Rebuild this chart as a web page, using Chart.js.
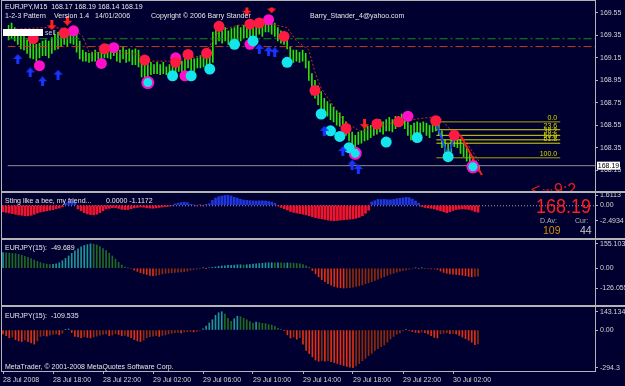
<!DOCTYPE html>
<html>
<head>
<meta charset="utf-8">
<script src="https://cdn.jsdelivr.net/npm/chart.js@4.4.0/dist/chart.umd.min.js"></script>
<style>
html, body { margin: 0; padding: 0; background: #000030; overflow: hidden; }
#wrap { position: relative; width: 625px; height: 386px; background: #000030; }
canvas { position: absolute; left: 0; }
.ln { position: absolute; background: #b4b4b4; }
</style>
</head>
<body>
<div id="wrap">
  <canvas id="cMain" width="625" height="191" style="top:0"></canvas>
  <canvas id="cSting" width="625" height="45" style="top:193px"></canvas>
  <canvas id="cOsc1" width="625" height="65" style="top:240px"></canvas>
  <canvas id="cOsc2" width="625" height="79" style="top:307px"></canvas>
  <div class="ln" style="left:1px;top:0;width:595px;height:1px"></div>
  <div class="ln" style="left:1px;top:0;width:1px;height:372px"></div>
  <div class="ln" style="left:595px;top:0;width:1px;height:372px"></div>
  <div class="ln" style="left:1px;top:191px;width:624px;height:2px"></div>
  <div class="ln" style="left:1px;top:238px;width:624px;height:2px"></div>
  <div class="ln" style="left:1px;top:305px;width:624px;height:2px"></div>
  <div class="ln" style="left:1px;top:371px;width:595px;height:1px"></div>
</div>
<script>
// DATA (one entry per M15 bar, index 0 = 28 Jul 14:00)

const timeLabels = ['28 Jul 2008', '28 Jul 18:00', '28 Jul 22:00', '29 Jul 02:00', '29 Jul 06:00',
  '29 Jul 10:00', '29 Jul 14:00', '29 Jul 18:00', '29 Jul 22:00', '30 Jul 02:00'];
const timeTickIdx = [0, 16, 32, 48, 64, 80, 96, 112, 128, 144];

const priceTicks = [169.55, 169.35, 169.15, 168.95, 168.75, 168.55, 168.35, 168.15];

const highs = [
  169.44, 169.46, 169.42, 169.39, 169.38, 169.34, 169.31, 169.30, 169.27, 169.27,
  169.28, 169.30, 169.31, 169.30, 169.33, 169.36, 169.38, 169.39, 169.41, 169.38,
  169.41, 169.39, 169.36, 169.30, 169.22, 169.20, 169.19, 169.20, 169.22, 169.20,
  169.23, 169.25, 169.27, 169.25, 169.27, 169.23, 169.22, 169.25, 169.22, 169.23,
  169.22, 169.23, 169.22, 169.12, 169.11, 169.09, 169.11, 169.09, 169.11, 169.09,
  169.11, 169.07, 169.09, 169.11, 169.12, 169.14, 169.12, 169.14, 169.17, 169.15,
  169.14, 169.15, 169.17, 169.19, 169.20, 169.22, 169.38, 169.41, 169.42, 169.41,
  169.42, 169.39, 169.41, 169.42, 169.44, 169.42, 169.44, 169.46, 169.44, 169.42,
  169.46, 169.47, 169.46, 169.49, 169.50, 169.47, 169.46, 169.42, 169.39, 169.38,
  169.33, 169.25, 169.22, 169.22, 169.20, 169.22, 169.19, 169.12, 169.01, 168.95,
  168.90, 168.85, 168.79, 168.76, 168.74, 168.71, 168.68, 168.66, 168.63, 168.58,
  168.54, 168.49, 168.46, 168.49, 168.50, 168.52, 168.54, 168.55, 168.57, 168.58,
  168.60, 168.58, 168.60, 168.62, 168.60, 168.63, 168.63, 168.65, 168.63, 168.58,
  168.55, 168.57, 168.58, 168.57, 168.58, 168.57, 168.55, 168.58, 168.62, 168.60,
  168.50, 168.42, 168.38, 168.44, 168.47, 168.47, 168.42, 168.38, 168.35, 168.30,
  168.27, 168.23, 168.19];
const lows = [
  169.31, 169.33, 169.30, 169.27, 169.23, 169.22, 169.19, 169.15, 169.14, 169.12,
  169.15, 169.17, 169.17, 169.15, 169.19, 169.22, 169.23, 169.25, 169.27, 169.25,
  169.28, 169.27, 169.20, 169.14, 169.12, 169.12, 169.11, 169.12, 169.12, 169.14,
  169.14, 169.15, 169.15, 169.14, 169.17, 169.12, 169.11, 169.14, 169.11, 169.12,
  169.09, 169.09, 169.07, 168.98, 168.95, 168.98, 169.00, 169.01, 169.01, 169.00,
  169.01, 169.00, 168.98, 168.98, 169.01, 169.03, 169.01, 169.03, 169.06, 169.04,
  169.03, 169.06, 169.06, 169.07, 169.09, 169.09, 169.11, 169.27, 169.30, 169.28,
  169.30, 169.27, 169.30, 169.31, 169.31, 169.30, 169.33, 169.33, 169.31, 169.31,
  169.34, 169.36, 169.34, 169.38, 169.38, 169.36, 169.34, 169.30, 169.28, 169.27,
  169.23, 169.15, 169.11, 169.12, 169.11, 169.12, 169.06, 168.95, 168.82, 168.79,
  168.73, 168.69, 168.66, 168.63, 168.60, 168.58, 168.55, 168.54, 168.50, 168.46,
  168.41, 168.36, 168.33, 168.38, 168.39, 168.41, 168.42, 168.44, 168.46, 168.47,
  168.49, 168.47, 168.50, 168.50, 168.49, 168.52, 168.54, 168.55, 168.52, 168.46,
  168.42, 168.46, 168.47, 168.46, 168.49, 168.46, 168.44, 168.49, 168.50, 168.46,
  168.35, 168.30, 168.27, 168.31, 168.36, 168.35, 168.30, 168.27, 168.23, 168.20,
  168.17, 168.16, 168.14];
const lastOpen = 168.17;
const lastClose = 168.19;

// trailing line (sparse vertices)
const trailLine = [[0, 169.40], [5, 169.41], [13, 169.42], [21, 169.41], [24, 169.34], [26, 169.20],
  [34, 169.20], [42, 169.18], [45, 169.12], [52, 169.12], [63, 169.17], [66, 169.30], [68, 169.39],
  [74, 169.44], [85, 169.45], [90, 169.42], [93, 169.30], [97, 169.22], [99, 169.02], [101, 168.88],
  [105, 168.72], [108, 168.60], [111, 168.54], [114, 168.49], [119, 168.54], [124, 168.57],
  [133, 168.61], [139, 168.63], [143, 168.50], [148, 168.39], [152, 168.23]];

const levelGreen = 169.32;
const levelRed = 169.25;

const redDots = [[8, 169.32], [18, 169.37], [31, 169.23], [44, 169.13], [54, 169.11], [58, 169.18],
  [64, 169.19], [68, 169.43], [78, 169.45], [81, 169.46], [89, 169.34], [99, 168.86], [109, 168.52],
  [119, 168.56], [126, 168.58], [138, 168.59], [144, 168.46]];
const magentaDots = [[10, 169.08], [21, 169.39], [30, 169.10], [34, 169.24], [54, 169.15],
  [57, 168.99], [78, 169.27], [84, 169.49], [129, 168.63]];
const cyanDots = [[53, 168.99], [59, 168.99], [65, 169.05], [73, 169.27], [79, 169.30], [90, 169.11],
  [101, 168.65], [104, 168.50], [107, 168.45], [110, 168.35], [122, 168.40], [132, 168.44], [142, 168.27]];
const cyanRingDots = [[45, 168.93], [112, 168.30], [150, 168.18]];
const upArrows = [[3, 169.14], [7, 169.02], [11, 168.94], [16, 169.00], [81, 169.23], [84, 169.21],
  [86, 169.20], [102, 168.50], [108, 168.32], [111, 168.20], [113, 168.16]];
const downArrows = [[14, 169.44], [19, 169.48], [77, 169.57], [85, 169.59], [115, 168.56]];

const fibLabels = ['0.0', '23.6', '38.2', '50.0', '61.8', '100.0'];
const fibPrices = [168.58, 168.51, 168.46, 168.42, 168.39, 168.26];
const fibFrom = 138.2, fibTo = 178.2;
const zigBlue = [[138, 168.58], [142, 168.27], [144, 168.45]];
const zigRed = [[146, 168.46], [153, 168.10]];

const sting = [
  -1.05, -1.15, -1.25, -1.35, -1.45, -1.55, -1.62, -1.68, -1.70, -1.62,
  -1.45, -1.25, -1.10, -1.00, -0.90, -0.80, -0.70, -0.55, -0.45, -0.25,
  0.35, 0.62, 0.72, 0.45, -0.60, -0.90, -1.20, -1.40, -1.50, -1.55,
  -1.45, -1.20, -0.90, -0.60, -0.50, -0.40, -0.38, -0.50, -0.65, -0.70,
  -0.68, -0.55, -0.42, -0.35, -0.28, -0.32, -0.40, -0.45, -0.48, -0.42,
  -0.35, -0.28, -0.22, -0.15, -0.08, 0.22, 0.35, 0.45, 0.50, 0.42,
  0.15, 0.08, -0.05, 0.10, -0.04, 0.15, 0.25, 0.78, 1.18, 1.38,
  1.50, 1.58, 1.6113, 1.50, 1.30, 1.15, 0.98, 0.85, 0.80, 0.75,
  0.72, 0.70, 0.72, 0.72, 0.70, 0.62, 0.50, 0.30, -0.10, -0.35,
  -0.55, -0.75, -1.00, -1.15, -1.25, -1.35, -1.45, -1.55, -1.70, -1.85,
  -2.00, -2.10, -2.20, -2.30, -2.40, -2.47, -2.4934, -2.45, -2.40, -2.35,
  -2.30, -2.25, -2.20, -2.10, -1.95, -1.70, -1.30, -0.80, 0.55, 0.75,
  0.95, 0.92, 0.95, 0.90, 0.88, 0.95, 1.05, 1.12, 1.20, 1.28,
  1.22, 1.00, 0.70, 0.35, -0.20, -0.35, -0.42, -0.50, -0.60, -0.75,
  -0.90, -1.05, -1.20, -1.05, -0.85, -0.70, -0.62, -0.58, -0.62, -0.68,
  -0.80, -1.00, -1.1172];
const stingTicks = [1.6113, 0, -2.4934];
const stingTickText = ['1.6113', '0.00', '-2.4934'];
const dAv = 109, cur = 44;

const osc1 = [
  100, 98, 96, 94, 92, 88, 82, 76, 70, 62,
  52, 44, 36, 30, 26, 24, 25, 28, 35, 48,
  62, 78, 95, 110, 124, 136, 145, 150, 155.103, 153,
  148, 138, 125, 112, 96, 78, 58, 38, 20, 8,
  2, -3, -12, -20, -28, -35, -40, -45, -48, -46,
  -42, -36, -32, -30, -28, -27, -25, -24, -22, -18,
  -12, -8, -5, -2, 2, -1, 3, 5, 8, 12,
  15, 16, 18, 19, 20, 22, 22, 20, 22, 24,
  26, 28, 30, 32, 34, 35, 35, 34, 35, 34,
  33, 34, 33, 32, 30, 28, 24, 16, 6, -15,
  -35, -55, -72, -85, -98, -108, -116, -121, -124, -126.055,
  -125, -123, -120, -116, -112, -106, -98, -92, -85, -78,
  -70, -62, -54, -45, -37, -32, -25, -18, -14, -10,
  -6, -3, 2, -2, 1, -3, -2, -5, -4, -8,
  -18, -27, -32, -36, -38, -40, -42, -44, -47, -52,
  -55, -52, -49.689];
const osc1Ticks = [155.103, 0, -126.055];
const osc1TickText = ['155.103', '0.00', '-126.055'];

const osc2 = [
  -30, -45, -60, -55, -75, -85, -90, -78, -92, -100,
  -110, -85, -50, -45, -48, -40, -35, -30, -38, -25,
  5, 8, -20, -50, -55, -60, -52, -58, -62, -55,
  -48, -40, -35, -30, -45, -40, -28, -35, -45, -42,
  -50, -60, -75, -85, -90, -78, -60, -52, -48, -45,
  -50, -42, -38, -30, -25, -20, -18, -22, -15, -14,
  -12, -15, -10, -4, 10, 30, 55, 80, 115, 135,
  143.134, 125, 92, 68, 88, 108, 104, 92, 80, 66,
  54, 62, 58, 52, 50, 42, 38, 28, 14, 6,
  -2, -38, -62, -55, -72, -60, -110, -160, -185, -210,
  -235, -245, -238, -244, -240, -248, -255, -262, -270, -278,
  -285, -290, -294.3, -280, -262, -240, -222, -200, -182, -160,
  -145, -130, -118, -95, -70, -50, -32, -22, -8, 3,
  -4, -12, -18, -22, -15, -20, -30, -45, -58, -62,
  -30, -25, -22, -28, -26, -30, -42, -55, -68, -80,
  -95, -115, -109.535];
const osc2Ticks = [143.134, 0, -294.3];
const osc2TickText = ['143.134', '0.00', '-294.3'];


// CONFIGURACION

const X_MIN = -0.32, X_MAX = 189.44;
const GRAY = '#b4b4b4';
const FONT = "'Liberation Sans', Arial, sans-serif";

Chart.defaults.font.family = FONT;
Chart.defaults.font.size = 7;
Chart.defaults.color = '#d4d4d4';
Chart.defaults.animation = false;
Chart.defaults.events = [];
Chart.defaults.plugins.legend.display = false;
Chart.defaults.plugins.tooltip.enabled = false;

function xScale(show) {
  return {
    type: 'linear', min: X_MIN, max: X_MAX, display: show, offset: false,
    afterBuildTicks: s => { s.ticks = timeTickIdx.map(v => ({ value: v })); },
    afterFit: s => { s.height = 15; s.paddingLeft = 0; s.paddingRight = 0; },
    grid: { offset: false, drawOnChartArea: false, drawTicks: true, tickLength: 3, color: GRAY },
    border: { display: false },
    ticks: { autoSkip: false, maxRotation: 0, minRotation: 0, align: 'start', padding: 2,
      color: '#d4d4d4', callback: (v, i) => timeLabels[i] }
  };
}

function yScale(min, max, vals, texts) {
  return {
    position: 'right', min: min, max: max,
    afterBuildTicks: s => { s.ticks = vals.map(v => ({ value: v })); },
    afterFit: s => { s.width = 30; s.paddingTop = 0; s.paddingBottom = 0; },
    grid: { drawOnChartArea: false, drawTicks: true, tickLength: 3, color: GRAY },
    border: { display: false },
    ticks: { autoSkip: false, padding: 2, color: '#d4d4d4', callback: (v, i) => texts[i] }
  };
}

function drawItems(chart, items) {
  const ctx = chart.ctx;
  items.forEach(it => {
    ctx.save();
    if (it.rect) {
      ctx.fillStyle = it.color;
      ctx.fillRect(it.rect[0], it.rect[1], it.rect[2], it.rect[3]);
    } else {
      ctx.font = (it.size || 7) + 'px ' + FONT;
      ctx.fillStyle = it.color || '#e6e6e6';
      ctx.textAlign = it.align || 'left';
      ctx.textBaseline = it.base || 'middle';
      ctx.translate(it.x, it.y);
      if (it.sx) ctx.scale(it.sx, 1);
      ctx.fillText(it.text, 0, 0);
    }
    ctx.restore();
  });
}

function arrowImg(color, up) {
  const c = document.createElement('canvas');
  c.width = 9; c.height = 10;
  const g = c.getContext('2d');
  g.fillStyle = color;
  g.beginPath();
  if (up) {
    g.moveTo(4.5, 0); g.lineTo(9, 5); g.lineTo(0, 5);
    g.closePath(); g.fill();
    g.fillRect(3, 5, 3, 5);
  } else {
    g.moveTo(4.5, 10); g.lineTo(9, 5); g.lineTo(0, 5);
    g.closePath(); g.fill();
    g.fillRect(3, 0, 3, 5);
  }
  return c;
}

const pts = arr => arr.map(p => ({ x: p[0], y: p[1] }));
const flat = (y, color, dash, order) => ({
  type: 'line', data: [{ x: X_MIN, y: y }, { x: X_MAX, y: y }], borderColor: color,
  borderWidth: 1, borderDash: dash, pointRadius: 0, order: order
});

function histColors(data, upRise, upFall, dnFall, dnRise) {
  return ctx => {
    const i = ctx.dataIndex, v = data[i], p = i > 0 ? data[i - 1] : v;
    if (v >= 0) return v >= p ? upRise : upFall;
    return v <= p ? dnFall : dnRise;
  };
}


// GRAFICA PRINCIPAL

const fibSets = fibPrices.map((p, k) => ({
  type: 'line', data: [{ x: fibFrom, y: p }, { x: fibTo, y: p }],
  borderColor: (k === 0 || k === 5) ? '#a8a000' : '#d8d800', borderWidth: 1, pointRadius: 0, order: 7
}));

new Chart(document.getElementById('cMain'), {
  type: 'bar',
  data: {
    datasets: [
      { type: 'bar', data: highs.map((h, i) => ({ x: i, y: [lows[i], h] })),
        backgroundColor: '#2fe000', barThickness: 1, order: 10 },
      flat(levelGreen, '#119011', [8, 3, 2, 3], 9),
      flat(levelRed, '#c8401a', [8, 3, 2, 3], 9),
      flat(lastClose, '#8c8c8c', [], 9),
      { type: 'line', data: pts(trailLine), borderColor: '#c83018', borderWidth: 1,
        borderDash: [2, 2], pointRadius: 0, order: 8 },
      ...fibSets,
      { type: 'line', data: pts(zigBlue), borderColor: '#1e3cff', borderWidth: 2, pointRadius: 0, order: 6 },
      { type: 'line', data: pts(zigRed), borderColor: '#ff1a1a', borderWidth: 2, pointRadius: 0, order: 6 },
      { type: 'scatter', data: pts(redDots), pointRadius: 5.5, pointBackgroundColor: '#ff1a44',
        pointBorderWidth: 0, order: 3 },
      { type: 'scatter', data: pts(magentaDots), pointRadius: 5.5, pointBackgroundColor: '#ff10c8',
        pointBorderWidth: 0, order: 3 },
      { type: 'scatter', data: pts(cyanDots), pointRadius: 5.5, pointBackgroundColor: '#14e6ee',
        pointBorderWidth: 0, order: 2 },
      { type: 'scatter', data: pts(cyanRingDots), pointRadius: 5.5, pointBackgroundColor: '#14e6ee',
        pointBorderColor: '#ff10c8', pointBorderWidth: 2, order: 2 },
      { type: 'scatter', data: pts(upArrows), pointStyle: arrowImg('#1a34ff', true), order: 1 },
      { type: 'scatter', data: pts(downArrows), pointStyle: arrowImg('#ff2020', false), order: 1 }
    ]
  },
  options: {
    responsive: false,
    layout: { padding: { left: 2, right: 0, top: 2, bottom: 1 } },
    scales: {
      x: xScale(false),
      y: yScale(168.107, 169.598, priceTicks, priceTicks.map(v => v.toFixed(2)))
    }
  },
  plugins: [{
    id: 'mainText',
    afterDraw(chart) {
      const y = chart.scales.y, x = chart.scales.x;
      const n = highs.length - 1;
      const items = [
        { text: 'EURJPY,M15  ' + [lastOpen, highs[n], lows[n], lastClose].map(v => v.toFixed(2)).join(' '), x: 5, y: 7.5 },
        { text: '1-2-3 Pattern', x: 5, y: 16 },
        { text: 'Version 1.4', x: 54, y: 16 },
        { text: '14/01/2006', x: 95, y: 16 },
        { text: 'Copyright \u00a9 2006 Barry Stander', x: 151, y: 16 },
        { text: 'Barry_Stander_4@yahoo.com', x: 310, y: 16 },
        { rect: [3, 29, 40, 7], color: '#ffffff' },
        { text: 'sell', x: 45, y: 33, color: '#d0d0d0' },
        { text: '<', x: 531, y: 195, size: 16, base: 'alphabetic', color: '#e01e1e' },
        { text: '151.8', x: 542, y: 194, size: 7, base: 'alphabetic', color: '#e01e1e' },
        { text: '9:2', x: 554, y: 195, size: 16, base: 'alphabetic', color: '#e01e1e' }
      ];
      fibLabels.forEach((t, k) => {
        items.push({ text: t, x: x.getPixelForValue(fibTo) - 3, y: y.getPixelForValue(fibPrices[k]) - 4,
          align: 'right', color: '#d8d800' });
      });
      const py = y.getPixelForValue(lastClose);
      items.push({ rect: [597, py - 4, 23, 8], color: '#ffffff' });
      items.push({ text: lastClose.toFixed(2), x: 608.5, y: py, align: 'center', color: '#000000' });
      drawItems(chart, items);
    }
  }]
});


// STING LIKE A BEE

new Chart(document.getElementById('cSting'), {
  type: 'bar',
  data: {
    datasets: [{
      data: sting.map((v, i) => ({ x: i, y: v })),
      backgroundColor: ctx => sting[ctx.dataIndex] >= 0 ? '#2034e0' : '#f0142c',
      barThickness: 2
    }]
  },
  options: {
    responsive: false,
    layout: { padding: { left: 2, right: 0, top: 0, bottom: 0 } },
    scales: { x: xScale(false), y: yScale(-2.871, 1.989, stingTicks, stingTickText) }
  },
  plugins: [{
    id: 'stingText',
    beforeDatasetsDraw(chart) {
      const a = chart.chartArea, y0 = chart.scales.y.getPixelForValue(0), ctx = chart.ctx;
      ctx.save();
      ctx.strokeStyle = '#a0a0a0';
      ctx.setLineDash([1, 2]);
      ctx.beginPath(); ctx.moveTo(a.left, y0 + 0.5); ctx.lineTo(a.right, y0 + 0.5); ctx.stroke();
      ctx.restore();
    },
    afterDraw(chart) {
      drawItems(chart, [
        { text: 'Sting like a bee, my friend...', x: 5, y: 8 },
        { text: '0.0000 ' + sting[sting.length - 1].toFixed(4), x: 106, y: 8 },
        { text: lastClose.toFixed(2), x: 536, y: 14.5, size: 20, sx: 0.9, color: '#ff1e1e' },
        { text: 'D.Av:', x: 540, y: 28, color: '#b4b4b4' },
        { text: 'Cur:', x: 575, y: 28, color: '#b4b4b4' },
        { text: String(dAv), x: 543, y: 38.5, size: 10.5, color: '#d08c00' },
        { text: String(cur), x: 580, y: 38.5, size: 10.5, color: '#c8c8c8' }
      ]);
    }
  }]
});


// OSCILADORES

new Chart(document.getElementById('cOsc1'), {
  type: 'bar',
  data: {
    datasets: [{
      data: osc1.map((v, i) => ({ x: i, y: v })),
      backgroundColor: histColors(osc1, '#1e9696', '#206a20', '#e0300e', '#8c2a0c'),
      barThickness: 1
    }]
  },
  options: {
    responsive: false,
    layout: { padding: { left: 2, right: 0, top: 0, bottom: 0 } },
    scales: { x: xScale(false), y: yScale(-138.3, 179.5, osc1Ticks, osc1TickText) }
  },
  plugins: [{
    id: 'osc1Text',
    afterDraw(chart) {
      drawItems(chart, [{ text: 'EURJPY(15):  ' + osc1[osc1.length - 1].toFixed(3), x: 5, y: 8 }]);
    }
  }]
});

new Chart(document.getElementById('cOsc2'), {
  type: 'bar',
  data: {
    datasets: [{
      data: osc2.map((v, i) => ({ x: i, y: v })),
      backgroundColor: histColors(osc2, '#1e9696', '#206a20', '#e0300e', '#8c2a0c'),
      barThickness: 1
    }]
  },
  options: {
    responsive: false,
    layout: { padding: { left: 2, right: 0, top: 0, bottom: 0 } },
    scales: { x: xScale(true), y: yScale(-320.3, 179.7, osc2Ticks, osc2TickText) }
  },
  plugins: [{
    id: 'osc2Text',
    afterDraw(chart) {
      drawItems(chart, [
        { text: 'EURJPY(15):  ' + osc2[osc2.length - 1].toFixed(3), x: 5, y: 9 },
        { text: 'MetaTrader, \u00a9 2001-2008 MetaQuotes Software Corp.', x: 5, y: 60 }
      ]);
    }
  }]
});
</script>
</body>
</html>
